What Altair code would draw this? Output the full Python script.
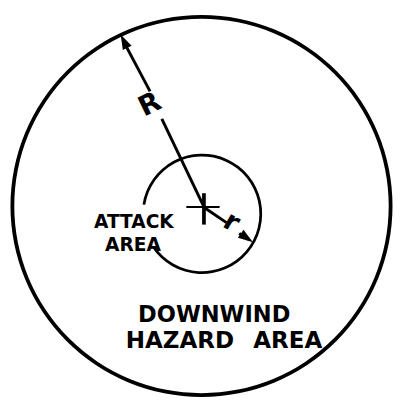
import altair as alt
import pandas as pd

# ---- diagram data (coordinates in picture units, y grows downward) ----
ring_name = ["downwind hazard area", "attack area"]
ring_cx = [205.5, 206.0]
ring_cy = [206.0, 214.0]
ring_radius = [193.0, 60.0]
ring_stroke = [3.8, 2.8]
ring_theta_start = [0.0, -81.0]
ring_theta_end = [360.0, 236.0]

seg_name = ["R upper", "R lower", "r inner", "r outer", "cross h", "cross v"]
seg_x1 = [127.0, 165.0, 209.0, 244.0, 190.0, 208.0]
seg_y1 = [40.0, 117.0, 208.0, 234.0, 207.0, 193.0]
seg_x2 = [153.0, 208.0, 231.0, 253.0, 224.0, 208.0]
seg_y2 = [89.0, 207.0, 223.0, 240.0, 207.0, 225.0]
seg_width = [3.0, 3.0, 3.0, 3.0, 2.2, 3.8]

head_name = ["R tip", "r tip"]
head_x = [123.0, 258.0]
head_y = [31.0, 243.0]
head_angle = [334.0, 125.0]

label_text = ["R", "r", "ATTACK", "AREA", "DOWNWIND", "HAZARD", "AREA"]
label_x = [153.0, 236.0, 136.5, 135.5, 218.5, 183.5, 293.5]
label_y = [103.0, 223.0, 228.0, 252.0, 324.0, 351.0, 351.0]
label_size = [28, 28, 19, 19, 23, 23.5, 23.5]
label_angle = [334, 30, 0, 0, 0, 0, 0]
label_baseline = ["middle", "middle", "alphabetic", "alphabetic", "alphabetic",
                  "alphabetic", "alphabetic"]

rings = pd.DataFrame({
    "name": ring_name,
    "cx": ring_cx,
    "cy": ring_cy,
    "ro": [r + w / 2 for r, w in zip(ring_radius, ring_stroke)],
    "ri": [r - w / 2 for r, w in zip(ring_radius, ring_stroke)],
    "t0": ring_theta_start,
    "t1": ring_theta_end,
})
segs = pd.DataFrame({"name": seg_name, "x": seg_x1, "y": seg_y1,
                     "x2": seg_x2, "y2": seg_y2, "w": seg_width})
heads = pd.DataFrame({"name": head_name, "x": head_x, "y": head_y, "a": head_angle})
labels = pd.DataFrame({"t": label_text, "x": label_x, "y": label_y,
                       "s": label_size, "a": label_angle, "b": label_baseline})

W = 394
xs = alt.Scale(domain=[8, 402], nice=False, zero=False)
ys = alt.Scale(domain=[8, 402], nice=False, zero=False, reverse=True)
rs = alt.Scale(type="linear", domain=[0, W], range=[0, W], zero=True, nice=False)
ts = alt.Scale(type="linear", domain=[0, 360], range=[0, 6.283185307], zero=True, nice=False)

ring_layer = alt.Chart(rings).mark_arc(color="black").encode(
    x=alt.X("cx:Q", scale=xs, axis=None),
    y=alt.Y("cy:Q", scale=ys, axis=None),
    radius=alt.Radius("ro:Q", scale=rs),
    radius2=alt.Radius2("ri:Q"),
    theta=alt.Theta("t0:Q", scale=ts, stack=None),
    theta2=alt.Theta2("t1:Q"),
)

seg_layer = alt.Chart(segs).mark_rule(color="black", strokeCap="butt").encode(
    x=alt.X("x:Q", scale=xs, axis=None),
    y=alt.Y("y:Q", scale=ys, axis=None),
    x2="x2:Q",
    y2="y2:Q",
    size=alt.Size("w:Q", scale=None, legend=None),
)

head_layer = alt.Chart(heads).mark_point(
    shape="M0,0L0.62,1.9L-0.62,1.9Z", filled=True, color="black", opacity=1, size=256
).encode(
    x=alt.X("x:Q", scale=xs, axis=None),
    y=alt.Y("y:Q", scale=ys, axis=None),
    angle=alt.Angle("a:Q", scale=None),
)

def text_layer(baseline):
    return alt.Chart(labels[labels["b"] == baseline]).mark_text(
        font="DejaVu Sans", fontWeight="bold", color="black",
        align="center", baseline=baseline,
    ).encode(
        x=alt.X("x:Q", scale=xs, axis=None),
        y=alt.Y("y:Q", scale=ys, axis=None),
        text="t:N",
        size=alt.Size("s:Q", scale=None, legend=None),
        angle=alt.Angle("a:Q", scale=None),
    )

chart = alt.layer(
    ring_layer, seg_layer, head_layer,
    text_layer("middle"), text_layer("alphabetic"),
).properties(
    width=W, height=W, padding=0, autosize=alt.AutoSizeParams(type="none"),
    background="white",
).configure_view(stroke=None)

chart.save("out.html", embed_options={"renderer": "svg", "actions": False})
